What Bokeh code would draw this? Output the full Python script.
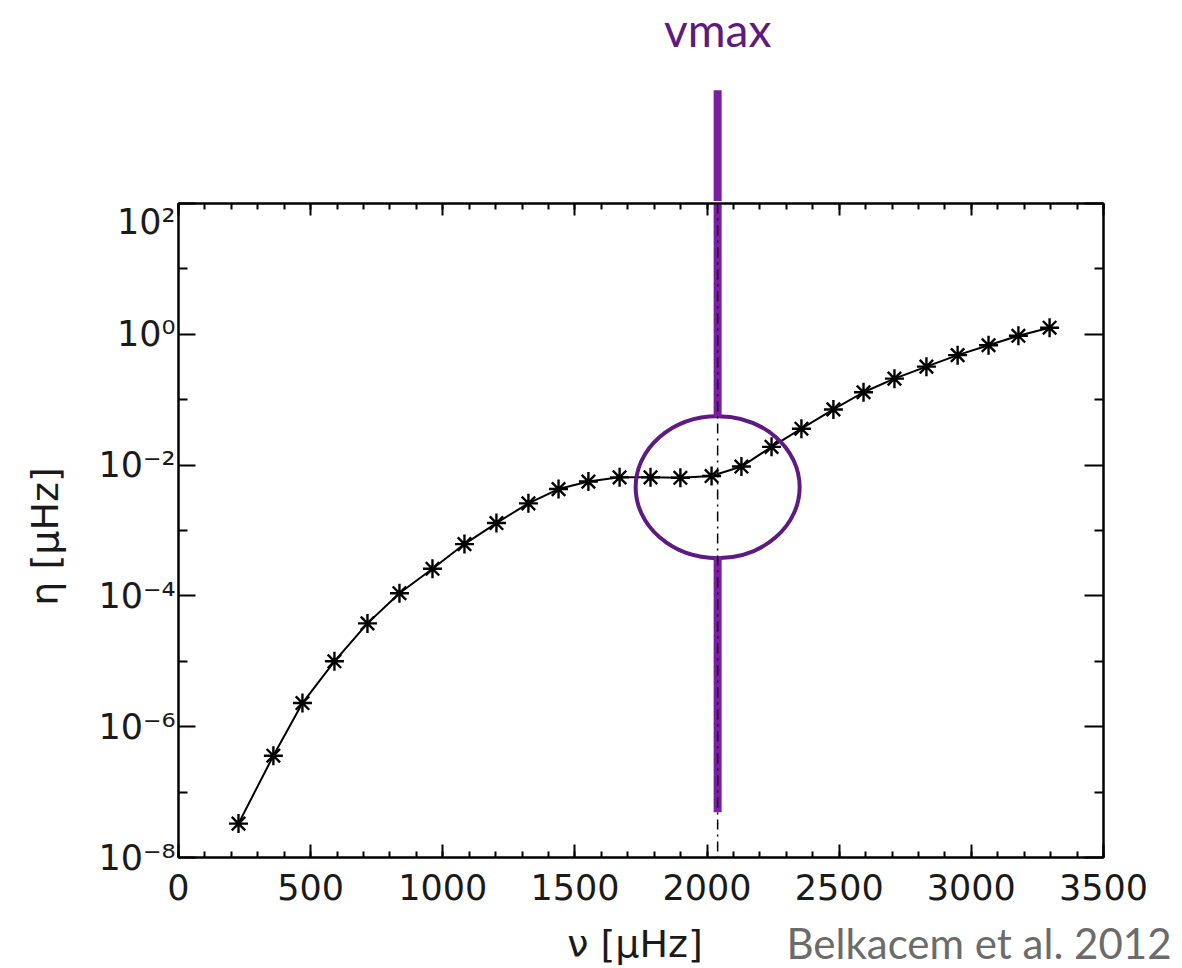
from bokeh.plotting import figure
from bokeh.layouts import column
from bokeh.models import LinearAxis, LogAxis, FixedTicker, Span
from bokeh.core.properties import value
from bokeh.embed import file_html
from bokeh.resources import INLINE

# ---- data ----
nu = [227, 359, 469, 590, 715, 836, 961, 1082, 1203, 1324, 1438, 1551, 1669, 1786,
      1899, 2017, 2130, 2244, 2357, 2478, 2592, 2709, 2830, 2948, 3065, 3178, 3296]
eta = [3.3e-8, 3.6e-7, 2.3e-6, 1.0e-5, 3.8e-5, 1.1e-4, 2.6e-4, 6.2e-4, 1.3e-3, 2.6e-3,
       4.3e-3, 5.6e-3, 6.5e-3, 6.5e-3, 6.4e-3, 6.8e-3, 9.5e-3, 1.9e-2, 3.6e-2, 7.1e-2,
       0.13, 0.21, 0.32, 0.48, 0.68, 0.95, 1.26]

x_ticks = [0, 500, 1000, 1500, 2000, 2500, 3000, 3500]
x_minor = list(range(0, 3501, 100))
y_ticks = [1e-8, 1e-6, 1e-4, 1e-2, 1e0, 1e2]
y_minor = [1e-7, 1e-5, 1e-3, 1e-1, 1e1]
y_labels = ["10\u207b\u2078", "10\u207b\u2076", "10\u207b\u2074", "10\u207b\u00b2",
            "10\u2070", "10\u00b2"]

# annotation (vmax marker) values
vmax = 2040
circle_y = 4.6e-3
bar_top = (5.4e3, 5.5e-2)       # purple bar, upper part
bar_bottom = (4.0e-4, 4.9e-8)   # purple bar, lower part
vmax_label_y = 4.65e4
x_label = "\u03bd  [\u03bcHz]"
y_label = "\u03b7  [\u03bcHz]"
credit = "Belkacem et al. 2012"

PURPLE = "#7b1fa2"
PURPLE_DARK = "#5c1a82"
FONT = "DejaVu Sans"

# ---- layout geometry (pixels) ----
W = 1182
L, R = 178, 79          # frame left / right borders
TOP_A = 201             # height of strip above frame
BT, BB = 2, 60          # main figure top / bottom borders
FRAME_H = 654
H_C = 968 - TOP_A - BT - FRAME_H - BB
C_TOP = 0
DEC = FRAME_H / 10.0    # pixels per decade
X0, X1 = 0, 3500

x_range = (X0, X1)

# ---- strip above the frame: "vmax" + bar ----
fa = figure(width=W, height=TOP_A, x_range=x_range,
            y_range=(10 ** (2 + BT / DEC), 10 ** (2 + (BT + TOP_A) / DEC)),
            y_axis_type="log", x_axis_type=None, output_backend="svg",
            toolbar_location=None, min_border_left=L, min_border_right=R,
            min_border_top=0, min_border_bottom=0)
fa.yaxis.visible = False
fa.grid.visible = False
fa.outline_line_color = None
fa.segment(x0=[vmax], y0=[bar_top[0]], x1=[vmax], y1=[1e2],
           line_color=PURPLE, line_width=8)
fa.text(x=[vmax], y=[vmax_label_y], text=["vmax"], text_align="center",
        text_baseline="alphabetic", text_font=value("Lato"),
        text_font_size="46px", text_color=PURPLE_DARK)

# ---- main plot ----
p = figure(width=W, height=BT + FRAME_H + BB, x_range=x_range, y_range=(1e-8, 1e2),
           y_axis_type="log", output_backend="svg", toolbar_location=None,
           min_border_left=L, min_border_right=R, min_border_top=BT,
           min_border_bottom=BB)
p.grid.visible = False
p.outline_line_color = "black"
p.outline_line_width = 2

xt = FixedTicker(ticks=x_ticks, minor_ticks=x_minor)
yt = FixedTicker(ticks=y_ticks, minor_ticks=y_minor)


def style(ax, maj, mnr):
    ax.axis_line_width = 2
    ax.major_tick_line_width = 2
    ax.minor_tick_line_width = 2
    ax.major_tick_in = maj
    ax.major_tick_out = 0
    ax.minor_tick_in = mnr
    ax.minor_tick_out = 0
    ax.major_label_text_font = FONT
    ax.major_label_text_font_size = "35px"
    ax.major_label_text_color = "#1a1a1a"
    ax.axis_label_text_font = FONT
    ax.axis_label_text_font_size = "38px"
    ax.axis_label_text_font_style = "normal"
    ax.axis_label_text_color = "#1a1a1a"


xa = p.xaxis[0]
xa.ticker = xt
style(xa, 13, 6)
xa.major_label_standoff = 16

ya = p.yaxis[0]
ya.ticker = yt
style(ya, 17, 9)
ya.major_label_overrides = {v: s for v, s in zip(y_ticks, y_labels)}
ya.major_label_standoff = 3
ya.axis_label = y_label
ya.axis_label_standoff = 28

top = LinearAxis(ticker=xt)
style(top, 12, 6)
top.major_label_overrides = {v: "" for v in x_ticks}
top.major_label_text_font_size = "0px"
top.major_label_standoff = 0
p.add_layout(top, "above")

right = LogAxis(ticker=yt)
style(right, 19, 9)
right.major_label_overrides = {v: "" for v in y_ticks}
right.major_label_text_font_size = "0px"
right.major_label_standoff = 0
p.add_layout(right, "right")

p.add_layout(Span(location=vmax, dimension="height", line_color="black",
                  line_width=1.5, line_dash="10 5 2 5"))

p.line(nu, eta, line_color="black", line_width=2)
p.scatter(nu, eta, marker="asterisk", size=19, line_color="black", line_width=2.4)

p.ellipse(x=[vmax], y=[circle_y], width=164, height=142, width_units="screen",
          height_units="screen", fill_color=None, line_color=PURPLE_DARK, line_width=4)
for y0, y1 in (bar_top, bar_bottom):
    p.segment(x0=[vmax], y0=[y0], x1=[vmax], y1=[y1], line_color=PURPLE, line_width=8)

# ---- strip below: x-axis title + credit ----
fc = figure(width=W, height=H_C, x_range=x_range, y_range=(0, H_C - C_TOP),
            x_axis_type=None, y_axis_type=None, output_backend="svg",
            toolbar_location=None, min_border_left=L, min_border_right=R,
            min_border_top=C_TOP, min_border_bottom=0)
fc.grid.visible = False
fc.outline_line_color = None
fc.text(x=[(X0 + X1) / 2], y=[25], text=[x_label], text_align="center",
        text_baseline="alphabetic", text_font=value(FONT), text_font_size="38px",
        text_color="#1a1a1a")
# credit: horizontal label of an invisible right axis, shifted back over the frame
cred_ax = LinearAxis(ticker=FixedTicker(ticks=[]), axis_label=credit,
                     axis_label_orientation="horizontal", axis_label_standoff=-317,
                     axis_label_text_font="Lato", axis_label_text_font_size="42px",
                     axis_label_text_font_style="normal", axis_label_text_color="#6b6b6b",
                     axis_line_color=None, major_tick_line_color=None,
                     minor_tick_line_color=None, major_label_standoff=0,
                     major_tick_in=0, major_tick_out=0, minor_tick_in=0, minor_tick_out=0)
fc.add_layout(cred_ax, "right")

layout = column(fa, p, fc, spacing=0)
open("out.html", "w").write(file_html(layout, INLINE))
